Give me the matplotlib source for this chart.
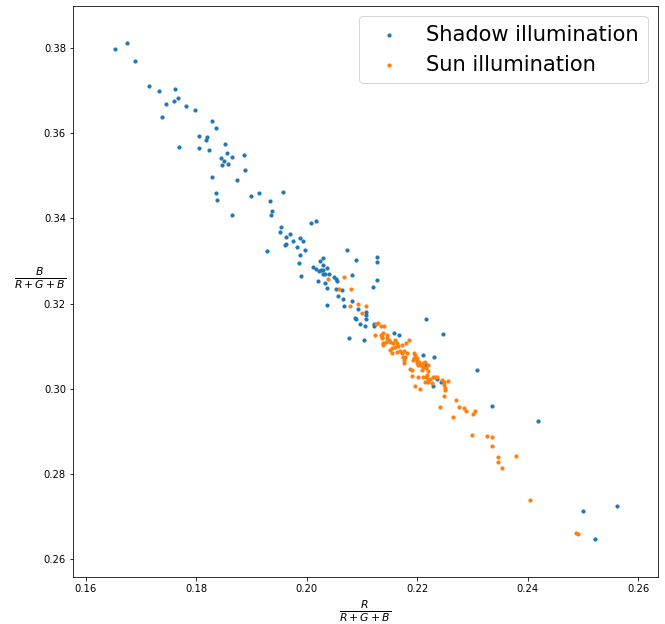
import matplotlib
matplotlib.use("Agg")
import matplotlib.pyplot as plt

# Shadow illumination: x = R/(R+G+B), y = B/(R+G+B)
shadow_x = [0.1653, 0.1674, 0.1689, 0.1714, 0.1733, 0.1761, 0.1767, 0.1760, 0.1746, 0.1782,
            0.1798, 0.1738, 0.1828, 0.1836, 0.1805, 0.1819, 0.1817, 0.1769, 0.1805, 0.1824,
            0.1852, 0.1856, 0.1865, 0.1887, 0.1845, 0.1851, 0.1847, 0.1857, 0.1889, 0.1828,
            0.1873, 0.1836, 0.1837, 0.1900, 0.1913, 0.1864, 0.1957, 0.1934, 0.1938, 0.1936,
            0.2008, 0.2016, 0.1953, 0.1951, 0.1969, 0.1963, 0.1988, 0.1994, 0.1976, 0.1963,
            0.1961, 0.1983, 0.1997, 0.1929, 0.1988, 0.2073, 0.2030, 0.2024, 0.1986, 0.2090,
            0.2128, 0.2128, 0.2037, 0.2029, 0.2011, 0.2016, 0.2026, 0.2022, 0.2030, 0.2034,
            0.2041, 0.2029, 0.2049, 0.2053, 0.2055, 0.1990, 0.2082, 0.2020, 0.2033, 0.2128,
            0.2037, 0.2053, 0.2064, 0.2120, 0.2056, 0.2066, 0.2082, 0.2037, 0.2067, 0.2093,
            0.2107, 0.2107, 0.2088, 0.2090, 0.2107, 0.2096, 0.2105, 0.2121, 0.2121, 0.2077,
            0.2103, 0.2216, 0.2158, 0.2168, 0.2246, 0.2210, 0.2231, 0.2308, 0.2236, 0.2229,
            0.2336, 0.2419, 0.2500, 0.2561, 0.2522, 0.2216, 0.2243]
shadow_y = [0.3798, 0.3811, 0.3771, 0.3712, 0.3700, 0.3704, 0.3683, 0.3675, 0.3668, 0.3665,
            0.3655, 0.3638, 0.3629, 0.3612, 0.3594, 0.3592, 0.3584, 0.3567, 0.3565, 0.3561,
            0.3575, 0.3554, 0.3545, 0.3550, 0.3542, 0.3535, 0.3525, 0.3527, 0.3515, 0.3498,
            0.3490, 0.3460, 0.3443, 0.3453, 0.3460, 0.3409, 0.3463, 0.3441, 0.3417, 0.3409,
            0.3389, 0.3394, 0.3380, 0.3369, 0.3363, 0.3357, 0.3355, 0.3348, 0.3347, 0.3340,
            0.3338, 0.3332, 0.3325, 0.3323, 0.3315, 0.3327, 0.3308, 0.3300, 0.3295, 0.3303,
            0.3309, 0.3298, 0.3284, 0.3290, 0.3285, 0.3281, 0.3279, 0.3277, 0.3279, 0.3270,
            0.3270, 0.3270, 0.3263, 0.3258, 0.3253, 0.3266, 0.3268, 0.3254, 0.3248, 0.3256,
            0.3237, 0.3235, 0.3231, 0.3239, 0.3217, 0.3212, 0.3207, 0.3197, 0.3194, 0.3188,
            0.3180, 0.3173, 0.3166, 0.3163, 0.3163, 0.3152, 0.3147, 0.3152, 0.3147, 0.3119,
            0.3115, 0.3163, 0.3130, 0.3126, 0.3129, 0.3079, 0.3074, 0.3044, 0.3022, 0.3007,
            0.2960, 0.2924, 0.2714, 0.2724, 0.2647, 0.3056, 0.3017]

# Sun illumination
sun_x = [0.2067, 0.2039, 0.2058, 0.2081, 0.2093, 0.2079, 0.2107, 0.2100, 0.2126, 0.2124,
         0.2135, 0.2140, 0.2134, 0.2138, 0.2137, 0.2145, 0.2149, 0.2143, 0.2138, 0.2151,
         0.2157, 0.2163, 0.2154, 0.2159, 0.2166, 0.2172, 0.2180, 0.2186, 0.2151, 0.2155,
         0.2163, 0.2169, 0.2176, 0.2172, 0.2175, 0.2181, 0.2177, 0.2177, 0.2195, 0.2195,
         0.2199, 0.2204, 0.2210, 0.2214, 0.2201, 0.2205, 0.2187, 0.2190, 0.2219, 0.2216,
         0.2220, 0.2190, 0.2202, 0.2211, 0.2216, 0.2219, 0.2224, 0.2228, 0.2233, 0.2214,
         0.2220, 0.2227, 0.2196, 0.2205, 0.2245, 0.2256, 0.2249, 0.2251, 0.2251, 0.2248,
         0.2271, 0.2242, 0.2275, 0.2285, 0.2288, 0.2305, 0.2301, 0.2265, 0.2299, 0.2326,
         0.2335, 0.2335, 0.2347, 0.2347, 0.2354, 0.2379, 0.2404, 0.2487, 0.2491, 0.2160,
         0.2139, 0.2178, 0.2196, 0.2199, 0.2209, 0.2218, 0.2236, 0.2130, 0.2136, 0.2145,
         0.2193, 0.2199, 0.2211, 0.2248]
sun_y = [0.3263, 0.3258, 0.3234, 0.3234, 0.3200, 0.3194, 0.3194, 0.3177, 0.3152, 0.3126,
         0.3147, 0.3148, 0.3126, 0.3130, 0.3120, 0.3119, 0.3115, 0.3111, 0.3104, 0.3109,
         0.3107, 0.3108, 0.3095, 0.3099, 0.3100, 0.3103, 0.3108, 0.3115, 0.3091, 0.3083,
         0.3087, 0.3089, 0.3089, 0.3083, 0.3075, 0.3083, 0.3068, 0.3060, 0.3083, 0.3072,
         0.3066, 0.3064, 0.3060, 0.3064, 0.3056, 0.3056, 0.3046, 0.3044, 0.3056, 0.3048,
         0.3042, 0.3030, 0.3027, 0.3028, 0.3027, 0.3021, 0.3024, 0.3027, 0.3027, 0.3017,
         0.3015, 0.3013, 0.3007, 0.3000, 0.3021, 0.3018, 0.3009, 0.3003, 0.2997, 0.2982,
         0.2974, 0.2958, 0.2958, 0.2956, 0.2948, 0.2949, 0.2941, 0.2934, 0.2892, 0.2889,
         0.2887, 0.2865, 0.2840, 0.2827, 0.2815, 0.2842, 0.2739, 0.2662, 0.2660, 0.3115,
         0.3107, 0.3075, 0.3079, 0.3072, 0.3044, 0.3032, 0.3028, 0.3154, 0.3122, 0.3126,
         0.3068, 0.3060, 0.3052, 0.3017]

series_labels = ["Shadow illumination", "Sun illumination"]
x_ticks = [0.16, 0.18, 0.20, 0.22, 0.24, 0.26]
y_ticks = [0.26, 0.28, 0.30, 0.32, 0.34, 0.36, 0.38]

W, H = 665, 624
fig = plt.figure(figsize=(W / 72, H / 72), dpi=72)
ax = fig.add_axes([73 / W, (H - 577) / H, (658 - 73) / W, (577 - 5.6) / H])

ax.scatter(shadow_x, shadow_y, s=10, color="#1f77b4", label=series_labels[0])
ax.scatter(sun_x, sun_y, s=10, color="#ff7f0e", label=series_labels[1])

ax.set_xlim(0.1577, 0.2636)
ax.set_ylim(0.2558, 0.3900)
ax.set_xticks(x_ticks)
ax.set_yticks(y_ticks)
ax.set_xticklabels([f"{v:.2f}" for v in x_ticks])
ax.set_yticklabels([f"{v:.2f}" for v in y_ticks])
ax.tick_params(labelsize=10)

ax.set_xlabel(r"$\frac{R}{R+G+B}$", fontsize=15.5)
ax.set_ylabel(r"$\frac{B}{R+G+B}$", fontsize=15.5, rotation=0)

ax.legend(loc="upper right", fontsize=21)

fig.savefig("out.png", dpi=72)
